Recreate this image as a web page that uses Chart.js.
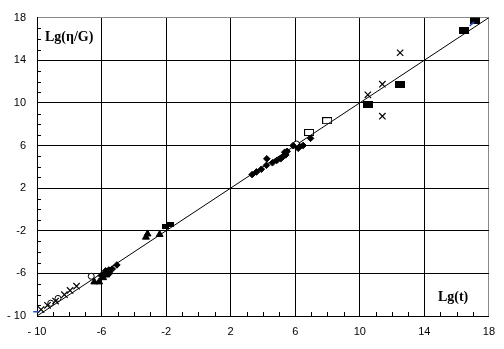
<!DOCTYPE html>
<html><head><meta charset="utf-8">
<script src="https://cdn.jsdelivr.net/npm/chart.js@4/dist/chart.umd.min.js"></script>
<style>html,body{margin:0;padding:0;background:#fff;}</style>
</head><body>
<canvas id="c" width="504" height="349"></canvas>
<script>
// ---- data ----
const tickValues = [-10, -6, -2, 2, 6, 10, 14, 18];
const tickLabels = ['- 10', '-6', '-2', '2', '6', '10', '14', '18'];
const xTitle = 'Lg(t)';
const yTitle = 'Lg(\u03b7/G)';

const lineX = [-10, 18];
const lineY = [-10, 18];

const bigSquareX = [17.15, 16.45, 12.5, 10.5];
const bigSquareY = [17.7, 16.75, 11.75, 9.8];

const smallSquareX = [-2.05, -1.7];
const smallSquareY = [-1.6, -1.45];

const openSquareX = [6.86, 7.98];
const openSquareY = [7.22, 8.33];

const crossX = [12.5, 11.4, 10.5, 11.4, -9.75, -9.35, -8.85, -8.3, -7.95, -7.55];
const crossY = [14.7, 11.75, 10.75, 8.75, -9.4, -9.0, -8.6, -8.0, -7.6, -7.2];

const triangleX = [-3.15, -3.25, -2.4, -6.45, -6.15, -5.9, -5.7];
const triangleY = [-2.3, -2.6, -2.35, -6.8, -6.8, -6.4, -6.15];

const dotX = [3.33, 3.6, 3.9, 4.22, 4.24, 4.59, 4.86, 5.1, 5.25, 5.42, 5.35, 5.5, 5.87, 6.28, 6.49, 6.18, 6.95,
              -6.02, -5.75, -5.55, -5.34, -5.05, -5.5, -5.81, -5.65];
const dotY = [3.27, 3.52, 3.77, 4.14, 4.75, 4.38, 4.6, 4.75, 4.97, 5.12, 5.37, 5.45, 5.99, 5.9, 6.0, 5.74, 6.67,
              -6.2, -5.77, -5.68, -5.59, -5.21, -5.99, -6.05, -5.9];

const openCircleX = [-6.64, 6.08, -9.15, -8.7];
const openCircleY = [-6.27, 6.14, -8.8, -8.35];

const blueX = [-10.05, 16.95];
const blueY = [-9.6, 17.4];

// ---- helpers ----
const pts = (xs, ys) => xs.map((x, i) => ({x: x, y: ys[i]}));
function rectImg(w, h, filled) {
  const c = document.createElement('canvas');
  c.width = w; c.height = h;
  const g = c.getContext('2d');
  if (filled) { g.fillStyle = '#000'; g.fillRect(0, 0, w, h); }
  else { g.strokeStyle = '#000'; g.lineWidth = 1; g.strokeRect(0.5, 0.5, w - 1, h - 1); }
  return c;
}
const bigSq = rectImg(10, 7, true);
const smallSq = rectImg(7, 5, true);
const openSq = rectImg(10, 7, false);

const gridColor = (c) => {
  const v = c.tick ? c.tick.value : null;
  if (v === 18) return '#8a8a8a';
  if (tickValues.includes(v)) return '#000';
  return 'rgba(0,0,0,0)';
};
const tickCb = (v) => {
  const i = tickValues.indexOf(v);
  return i >= 0 ? tickLabels[i] : '';
};

const decor = {
  id: 'decor',
  beforeDraw(chart) {
    const ctx = chart.ctx;
    ctx.save(); ctx.fillStyle = '#fff'; ctx.fillRect(0, 0, chart.width, chart.height); ctx.restore();
  },
  beforeDatasetsDraw(chart) {
    const ctx = chart.ctx, xs = chart.scales.x, ys = chart.scales.y, a = chart.chartArea;
    ctx.save();
    ctx.strokeStyle = '#000'; ctx.lineWidth = 1;
    ctx.beginPath();
    for (let v = -10; v <= 18; v++) {
      if (tickValues.includes(v)) continue;
      const px = Math.round(xs.getPixelForValue(v)) + 0.5;
      ctx.moveTo(px, a.bottom); ctx.lineTo(px, a.bottom - 4);
      const py = Math.round(ys.getPixelForValue(v)) + 0.5;
      ctx.moveTo(a.left, py); ctx.lineTo(a.left + 4, py);
    }
    ctx.stroke();
    ctx.fillStyle = '#000';
    ctx.font = 'bold 14px "Liberation Serif", "Times New Roman", serif';
    ctx.textBaseline = 'middle'; ctx.textAlign = 'left';
    ctx.fillText(yTitle, a.left + 8, a.top + 20);
    ctx.fillText(xTitle, a.right - 51, a.bottom - 19);
    ctx.restore();
  }
};

new Chart(document.getElementById('c'), {
  type: 'scatter',
  data: {
    datasets: [
      {data: pts(blueX, blueY), pointStyle: 'line', pointRotation: [0, -40], radius: 3, borderColor: '#1f4fd0', borderWidth: 1.5, clip: false},
      {data: pts(bigSquareX, bigSquareY), pointStyle: bigSq, radius: 5},
      {data: pts(smallSquareX, smallSquareY), pointStyle: smallSq, radius: 4},
      {data: pts(openSquareX, openSquareY), pointStyle: openSq, radius: 5},
      {data: pts(crossX, crossY), pointStyle: 'crossRot', radius: 4.5, borderColor: '#000', borderWidth: 1.2},
      {data: pts(triangleX, triangleY), pointStyle: 'triangle', radius: 4, backgroundColor: '#000', borderColor: '#000', borderWidth: 1},
      {data: pts(dotX, dotY), pointStyle: 'rectRot', radius: 3.3, backgroundColor: '#000', borderColor: '#000', borderWidth: 1},
      {data: pts(openCircleX, openCircleY), pointStyle: 'circle', radius: 3, backgroundColor: '#fff', borderColor: '#000', borderWidth: 1},
      {type: 'line', data: pts(lineX, lineY), borderColor: '#000', borderWidth: 1, pointRadius: 0, fill: false, showLine: true}
    ]
  },
  options: {
    responsive: false,
    animation: false,
    devicePixelRatio: 1,
    layout: {padding: {left: 0, right: 15, top: 13, bottom: 0}},
    plugins: {legend: {display: false}, tooltip: {enabled: false}},
    scales: {
      x: {
        type: 'linear', min: -10, max: 18,
        ticks: {stepSize: 1, autoSkip: false, maxRotation: 0, callback: tickCb, color: '#000', padding: 9,
                font: {family: '"Liberation Sans", Arial, sans-serif', size: 11}},
        grid: {color: gridColor, lineWidth: 1, drawTicks: false},
        border: {display: true, color: '#000', width: 1},
        afterFit: (s) => { s.height = 33; }
      },
      y: {
        type: 'linear', min: -10, max: 18,
        ticks: {stepSize: 1, autoSkip: false, callback: tickCb, color: '#000', padding: 11,
                font: {family: '"Liberation Sans", Arial, sans-serif', size: 11}},
        grid: {color: gridColor, lineWidth: 1, drawTicks: false},
        border: {display: true, color: '#000', width: 1},
        afterFit: (s) => { s.width = 37; }
      }
    }
  },
  plugins: [decor]
});
</script>
</body></html>
